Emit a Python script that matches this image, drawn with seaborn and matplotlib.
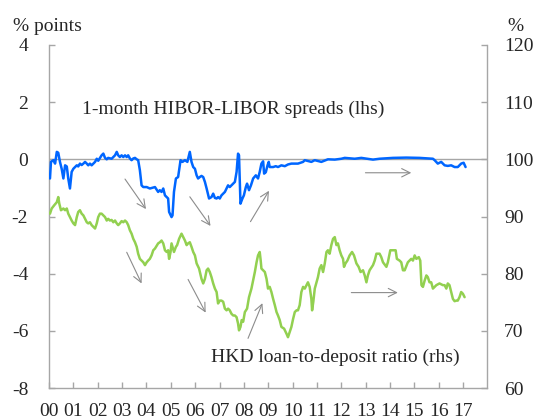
import numpy as np
import pandas as pd
import seaborn as sns
import matplotlib.pyplot as plt

# 1-month HIBOR-LIBOR spread (% points, lhs)
blue_year = [2000.04, 2000.08, 2000.18, 2000.25, 2000.32, 2000.38, 2000.45, 2000.52, 2000.59, 2000.66,
             2000.73, 2000.79, 2000.86, 2000.93, 2001.00, 2001.07, 2001.14, 2001.20, 2001.27, 2001.34,
             2001.41, 2001.48, 2001.55, 2001.61, 2001.68, 2001.75, 2001.82, 2001.89, 2001.96, 2002.02,
             2002.16, 2002.23, 2002.30, 2002.37, 2002.43, 2002.57, 2002.71, 2002.78, 2002.84, 2002.91,
             2002.98, 2003.05, 2003.12, 2003.19, 2003.25, 2003.32, 2003.39, 2003.46, 2003.53, 2003.60,
             2003.66, 2003.73, 2003.80, 2003.87, 2004.01, 2004.14, 2004.35, 2004.48, 2004.55, 2004.62,
             2004.69, 2004.76, 2004.89, 2004.93, 2005.03, 2005.07, 2005.13, 2005.21, 2005.30, 2005.40,
             2005.48, 2005.58, 2005.68, 2005.78, 2005.85, 2005.92, 2005.99, 2006.06, 2006.12, 2006.19,
             2006.26, 2006.33, 2006.40, 2006.47, 2006.57, 2006.67, 2006.74, 2006.81, 2006.88, 2006.94,
             2007.01, 2007.08, 2007.15, 2007.22, 2007.29, 2007.35, 2007.42, 2007.49, 2007.56, 2007.63,
             2007.70, 2007.76, 2007.80, 2007.86, 2007.94, 2008.00, 2008.08, 2008.13, 2008.21, 2008.29,
             2008.38, 2008.49, 2008.58, 2008.65, 2008.72, 2008.79, 2008.83, 2008.90, 2008.97, 2009.02,
             2009.06, 2009.20, 2009.31, 2009.40, 2009.54, 2009.68, 2009.81, 2009.95, 2010.22, 2010.43,
             2010.50, 2010.63, 2010.77, 2010.91, 2011.18, 2011.45, 2011.73, 2012.00, 2012.14, 2012.55,
             2012.82, 2013.30, 2013.57, 2014.12, 2014.67, 2015.21, 2015.76, 2015.83, 2015.96, 2016.10,
             2016.24, 2016.37, 2016.51, 2016.65, 2016.78, 2016.92, 2017.02, 2017.10]
blue_spread = [-0.67, -0.09, -0.03, -0.15, 0.26, 0.23, -0.09, -0.33, -0.67, -0.21,
               -0.25, -0.67, -1.02, -0.44, -0.33, -0.27, -0.21, -0.25, -0.15, -0.20,
               -0.15, -0.09, -0.15, -0.21, -0.15, -0.21, -0.15, -0.09, 0.02, -0.05,
               0.14, 0.20, 0.05, 0.00, 0.05, 0.02, 0.14, 0.26, 0.14, 0.08,
               0.14, 0.08, 0.14, 0.08, 0.14, 0.03, -0.03, 0.03, 0.05, 0.00,
               -0.03, -0.38, -0.91, -0.97, -0.97, -1.02, -0.97, -1.14, -1.08, -1.14,
               -1.02, -1.26, -1.37, -1.84, -2.02, -1.96, -1.14, -0.67, -0.62, -0.03,
               -0.09, -0.03, -0.09, 0.26, -0.09, -0.27, -0.33, -0.56, -0.67, -0.62,
               -0.58, -0.62, -0.79, -1.02, -1.37, -1.32, -1.20, -1.35, -1.37, -1.32,
               -1.37, -1.26, -1.20, -1.14, -1.02, -0.91, -0.97, -0.91, -0.85, -0.79,
               -0.44, 0.20, 0.14, -1.55, -1.37, -1.26, -0.97, -0.85, -1.08, -0.91,
               -0.67, -0.56, -0.67, -0.44, -0.15, -0.07, -0.50, -0.45, -0.21, -0.09,
               -0.27, -0.27, -0.24, -0.27, -0.21, -0.24, -0.18, -0.15, -0.15, -0.09,
               -0.03, -0.06, -0.09, -0.03, -0.09, 0.00, -0.01, 0.02, 0.05, 0.02,
               0.05, -0.01, 0.02, 0.05, 0.06, 0.05, 0.02, -0.03, -0.15, -0.09,
               -0.21, -0.23, -0.21, -0.27, -0.27, -0.15, -0.12, -0.27]

# HKD loan-to-deposit ratio (%, rhs)
green_year = [2000.04, 2000.11, 2000.22, 2000.32, 2000.38, 2000.42, 2000.49, 2000.59, 2000.66, 2000.73,
              2000.79, 2000.86, 2000.93, 2001.00, 2001.07, 2001.14, 2001.20, 2001.27, 2001.34, 2001.41,
              2001.48, 2001.55, 2001.61, 2001.68, 2001.75, 2001.82, 2001.89, 2001.96, 2002.02, 2002.09,
              2002.16, 2002.23, 2002.30, 2002.37, 2002.43, 2002.50, 2002.57, 2002.64, 2002.71, 2002.78,
              2002.84, 2002.91, 2002.98, 2003.05, 2003.12, 2003.19, 2003.25, 2003.32, 2003.39, 2003.46,
              2003.53, 2003.60, 2003.66, 2003.73, 2003.80, 2003.87, 2003.94, 2004.01, 2004.07, 2004.14,
              2004.21, 2004.28, 2004.35, 2004.48, 2004.55, 2004.62, 2004.69, 2004.76, 2004.83, 2004.89,
              2004.93, 2004.99, 2005.03, 2005.07, 2005.13, 2005.21, 2005.26, 2005.34, 2005.44, 2005.51,
              2005.58, 2005.65, 2005.71, 2005.78, 2005.85, 2005.92, 2005.99, 2006.06, 2006.16, 2006.26,
              2006.33, 2006.40, 2006.47, 2006.53, 2006.60, 2006.67, 2006.74, 2006.81, 2006.88, 2006.94,
              2007.01, 2007.08, 2007.15, 2007.22, 2007.29, 2007.35, 2007.42, 2007.49, 2007.56, 2007.63,
              2007.70, 2007.76, 2007.80, 2007.86, 2007.91, 2007.97, 2008.04, 2008.13, 2008.21, 2008.31,
              2008.45, 2008.52, 2008.58, 2008.65, 2008.69, 2008.72, 2008.79, 2008.86, 2008.93, 2008.99,
              2009.06, 2009.13, 2009.20, 2009.27, 2009.34, 2009.40, 2009.47, 2009.54, 2009.65, 2009.75,
              2009.81, 2009.88, 2009.95, 2010.02, 2010.09, 2010.16, 2010.22, 2010.29, 2010.36, 2010.43,
              2010.50, 2010.57, 2010.63, 2010.70, 2010.77, 2010.80, 2010.85, 2010.91, 2010.98, 2011.04,
              2011.11, 2011.18, 2011.25, 2011.32, 2011.39, 2011.45, 2011.52, 2011.59, 2011.66, 2011.73,
              2011.80, 2011.86, 2011.93, 2012.00, 2012.07, 2012.11, 2012.17, 2012.25, 2012.34, 2012.44,
              2012.52, 2012.62, 2012.71, 2012.79, 2012.89, 2012.96, 2013.03, 2013.09, 2013.16, 2013.30,
              2013.37, 2013.44, 2013.57, 2013.64, 2013.71, 2013.85, 2013.91, 2014.01, 2014.12, 2014.23,
              2014.28, 2014.39, 2014.46, 2014.53, 2014.60, 2014.73, 2014.87, 2014.94, 2015.01, 2015.08,
              2015.18, 2015.24, 2015.29, 2015.35, 2015.42, 2015.49, 2015.55, 2015.62, 2015.69, 2015.76,
              2015.83, 2015.90, 2016.03, 2016.17, 2016.24, 2016.31, 2016.37, 2016.44, 2016.51, 2016.58,
              2016.65, 2016.72, 2016.78, 2016.85, 2016.92, 2016.99, 2017.06]
green_ldr = [90.5, 91.4, 92.0, 92.5, 93.4, 92.3, 91.1, 91.4, 91.1, 91.4,
             90.5, 89.9, 89.3, 88.8, 88.5, 89.9, 90.8, 91.1, 90.5, 90.2,
             89.6, 89.0, 88.8, 89.0, 88.5, 88.2, 87.9, 88.8, 89.9, 90.5,
             90.5, 90.2, 89.9, 89.3, 89.6, 89.3, 89.4, 89.0, 89.3, 88.8,
             88.5, 88.8, 89.2, 89.0, 89.3, 89.0, 88.5, 87.6, 87.0, 86.1,
             85.5, 84.7, 83.5, 82.6, 82.3, 82.0, 81.5, 82.0, 82.3, 82.6,
             83.2, 84.1, 84.4, 85.3, 85.5, 85.8, 85.3, 84.1, 83.8, 84.1,
             82.6, 83.8, 85.3, 84.7, 83.8, 84.7, 85.0, 86.1, 87.0, 86.4,
             85.8, 85.0, 85.3, 85.5, 84.7, 83.8, 83.2, 81.8, 80.9, 79.1,
             78.3, 79.1, 80.6, 80.9, 80.3, 79.4, 78.3, 77.4, 76.8, 74.8,
             75.3, 75.3, 75.1, 73.9, 73.6, 73.9, 73.6, 73.0, 72.7, 72.7,
             72.4, 71.3, 70.1, 70.7, 71.9, 71.6, 73.3, 73.9, 75.9, 77.4,
             80.3, 82.0, 83.2, 83.8, 82.3, 80.9, 80.6, 80.3, 79.1, 77.4,
             77.7, 76.8, 75.6, 74.5, 73.3, 72.7, 71.9, 70.7, 70.4, 69.5,
             68.9, 69.8, 70.7, 72.1, 73.3, 73.6, 73.6, 74.5, 76.8, 77.7,
             77.4, 78.0, 78.5, 77.7, 75.6, 73.6, 75.1, 77.4, 78.5, 79.4,
             80.9, 81.5, 80.3, 81.8, 83.8, 84.1, 83.5, 85.0, 86.1, 86.4,
             85.0, 85.3, 84.1, 83.2, 82.6, 81.2, 81.8, 82.3, 83.2, 83.8,
             83.2, 81.8, 81.2, 80.3, 80.6, 79.7, 78.5, 79.7, 80.6, 81.5,
             82.3, 83.5, 83.5, 82.9, 82.0, 81.2, 82.0, 84.1, 84.1, 84.1,
             82.6, 82.3, 82.0, 80.6, 80.6, 82.0, 82.6, 82.3, 83.2, 82.6,
             82.9, 82.3, 78.0, 77.7, 78.8, 79.7, 79.4, 78.5, 78.5, 77.4,
             77.7, 78.0, 78.3, 78.0, 78.0, 77.4, 78.3, 78.0, 76.8, 75.6,
             75.2, 75.3, 75.3, 75.9, 76.8, 76.5, 75.9]

year_ticks = list(range(2000, 2018))
year_labels = ["00", "01", "02", "03", "04", "05", "06", "07", "08", "09",
               "10", "11", "12", "13", "14", "15", "16", "17"]
left_ticks = [-8, -6, -4, -2, 0, 2, 4]
right_ticks = [60, 70, 80, 90, 100, 110, 120]

blue_df = pd.DataFrame({"year": blue_year, "spread": blue_spread})
green_df = pd.DataFrame({"year": green_year, "ldr": green_ldr})

sns.set_style("white")
plt.rcParams["font.family"] = ["Liberation Serif", "DejaVu Serif"]
grey = "#a6a6a6"
arrow_grey = "#8c8c8c"

fig = plt.figure(figsize=(5.35, 4.19), dpi=100)
ax = fig.add_axes([0.0916, 0.0737, 0.8196, 0.8191])
ax2 = ax.twinx()

ax.axhline(0, color=grey, lw=1.0, zorder=1)
sns.lineplot(data=blue_df, x="year", y="spread", ax=ax, color="#0066ff",
             linewidth=1.8, estimator=None, zorder=3)
sns.lineplot(data=green_df, x="year", y="ldr", ax=ax2, color="#92d050",
             linewidth=1.8, estimator=None, zorder=3)

ax.set_xlim(2000, 2018)
ax.set_ylim(-8, 4)
ax2.set_ylim(60, 120)
ax.set_xticks(year_ticks)
ax.set_xticklabels(year_labels)
ax.set_yticks(left_ticks)
ax.set_yticklabels([str(v) for v in left_ticks])
ax2.set_yticks(right_ticks)
ax.set_xlabel("")
ax.set_ylabel("")
ax2.set_ylabel("")

for a in (ax, ax2):
    a.spines["top"].set_visible(False)
    for s in a.spines.values():
        s.set_color(grey)
        s.set_linewidth(1.0)
ax.spines["right"].set_visible(False)
ax2.spines["left"].set_visible(False)
ax2.spines["bottom"].set_visible(False)

ax.tick_params(axis="x", direction="in", length=4, width=1, color=grey,
               labelsize=14, pad=11, bottom=True)
ax.tick_params(axis="y", direction="in", length=4, width=1, color=grey,
               labelsize=14, pad=15, left=True)
ax2.tick_params(axis="y", direction="in", length=4, width=1, color=grey,
                labelsize=14, pad=12, right=True)

fig.text(0.024, 0.926, "% points", fontsize=14, va="baseline", ha="left")
fig.text(0.949, 0.926, "%", fontsize=14, va="baseline", ha="left")

ax.text(2001.35, 1.57, "1-month HIBOR-LIBOR spreads (lhs)", fontsize=14,
        va="baseline", ha="left")
ax.text(2006.66, -7.09, "HKD loan-to-deposit ratio (rhs)", fontsize=14,
        va="baseline", ha="left")

arrows = [
    ((2003.12, -0.69), (2003.98, -1.74)),
    ((2005.78, -1.31), (2006.63, -2.33)),
    ((2008.27, -2.18), (2009.03, -1.10)),
    ((2012.99, -0.47), (2014.87, -0.47)),
    ((2003.19, -3.25), (2003.80, -4.34)),
    ((2005.71, -4.20), (2006.43, -5.36)),
    ((2008.17, -6.26), (2008.76, -5.03)),
    ((2012.41, -4.66), (2014.32, -4.66)),
]
for start, end in arrows:
    ax.annotate("", xy=end, xytext=start,
                arrowprops=dict(arrowstyle="->,head_length=0.6,head_width=0.3",
                                color=arrow_grey, lw=0.8, shrinkA=0, shrinkB=0))

plt.savefig("out.png", dpi=100)
